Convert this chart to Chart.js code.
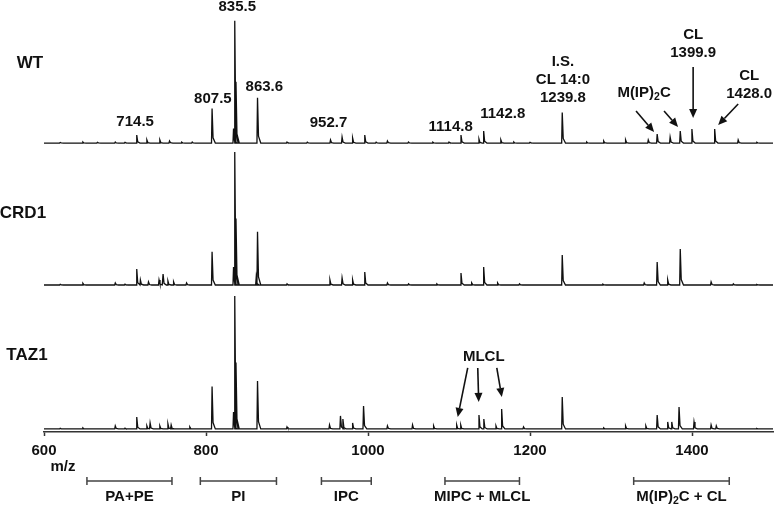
<!DOCTYPE html>
<html>
<head>
<meta charset="utf-8">
<script src="https://cdn.jsdelivr.net/npm/chart.js@4"></script>
<style>
  body { margin: 0; background: #fff; }
  canvas { display: block; }
</style>
</head>
<body>
<canvas id="spectra" width="774" height="505"></canvas>
<script>
// peaks as [m/z, relative intensity]; 835.5 of CRD1 / TAZ1 = 100
const wtPeaks = [
    [620, 0.4], [648, 0.8], [666, 0.5], [688, 0.8], [700, 0.5], [714.5, 6], [727, 2.3], [743, 2.3],
    [755, 1.5], [770, 0.6], [783, 0.8], [807.5, 26], [834, 11], [835.5, 92], [837, 46], [863.6, 34],
    [900, 0.8], [925, 0.6], [953.7, 2.3], [968, 4.5], [981, 3.8], [996, 6], [1010, 0.6], [1024, 1.5],
    [1050, 0.8], [1080, 0.6], [1100, 0.8], [1114.8, 6], [1137, 3], [1142.8, 9], [1164, 2.3], [1180, 0.8],
    [1200, 0.5], [1239.8, 23], [1270, 0.8], [1291, 1.5], [1318, 2.3], [1346, 2.3], [1357, 6.8],
    [1373, 4.5], [1385.5, 9], [1399.9, 10.5], [1428.0, 10.5], [1457, 2.3], [1480, 0.5]
];
const crd1Peaks = [
    [620, 0.5], [648, 1.2], [688, 1.5], [700, 0.6], [714.5, 12], [719, 3.8], [729, 2.3], [742, 3.8],
    [747, 8.3], [753, 3], [760, 2.3], [776, 1.5], [807.5, 25], [834, 13.5], [835.5, 100], [837, 50],
    [862, 6], [863.6, 40], [900, 0.8], [953, 3.8], [968, 5.3], [981, 3.8], [996, 9.8], [1024, 1.5],
    [1050, 0.8], [1085, 0.8], [1114.8, 9], [1128, 1.5], [1142.8, 13.5], [1160, 1.5], [1187, 0.8],
    [1239.8, 22.6], [1290, 0.6], [1341, 1.5], [1357, 17.3], [1370, 3.8], [1385.5, 27], [1423.6, 2.3],
    [1451, 0.8], [1480, 0.4]
];
const taz1Peaks = [
    [620, 0.5], [648, 0.8], [688, 2.3], [700, 0.6], [714.5, 9], [727, 2.3], [731, 4.5], [743, 2.3],
    [753, 3.8], [757, 3], [780, 1.5], [807.5, 32], [834, 12.8], [835.5, 100], [837, 50], [863.6, 36],
    [900, 1.5], [952.5, 3], [966, 9.8], [969, 7.5], [981, 4.5], [994.5, 17.3], [1024, 2.3], [1055, 3],
    [1081, 2.3], [1109.5, 3], [1114.5, 3], [1137, 10.5], [1143, 7.5], [1158, 2.3], [1165, 15],
    [1192, 1.5], [1239.8, 24], [1291, 0.8], [1318, 2.3], [1343, 2.3], [1357, 10.5], [1370, 5.3],
    [1375, 5.3], [1384, 16.5], [1402.5, 5.3], [1423.6, 3], [1430, 2.3], [1480, 0.4]
];
const traceNames = ["WT", "CRD1", "TAZ1"];
const traceBase = [217.4, 110.6, 2.3];   // offset of each spectrum on the shared y scale
const xTicks = [600, 800, 1000, 1200, 1400];
const classRanges = [
    ["PA+PE", 653, 758],
    ["PI", 793, 887],
    ["IPC", 942.5, 1004],
    ["MIPC + MLCL", 1095, 1187],
    ["M(IP)2C + CL", 1328, 1446]
];
// peak labels: text lines, m/z, y (first line)
const peakLabels = [
    [["835.5"], 838.6, 319.8],
    [["807.5"], 808.5, 250.6],
    [["863.6"], 872, 259.6],
    [["714.5"], 712.5, 233.3],
    [["952.7"], 951.2, 232.5],
    [["1114.8"], 1102, 229.5],
    [["1142.8"], 1166.4, 239.3],
    [["I.S.", "CL 14:0", "1239.8"], 1240.6, 278.4],
    [["M(IP)2C"], 1340.8, 255.1],
    [["CL", "1399.9"], 1401.4, 298.7],
    [["CL", "1428.0"], 1470.6, 267.9],
    [["MLCL"], 1142.9, 56.4]
];
const arrows = [
    [1401.4, 274.6, 1401.4, 236.3],
    [1457, 246.8, 1432.3, 231],
    [1330.9, 241.5, 1353.2, 225.7],
    [1365.5, 241.5, 1382.8, 229.5],
    [1123.1, 48.2, 1110.8, 11.3],
    [1135.5, 48.2, 1136.7, 22.6],
    [1159, 48.2, 1165.2, 26.3]
];
const nameMz = [582.7, 574, 579];
const nameY = [277.7, 164.8, 57.9];

const FONT = "'Liberation Sans', Arial, sans-serif";
const INK = "#111";

function buildTrace(peaks, base) {
    const pts = [{ x: 600, y: base }];
    peaks.slice().sort((a, b) => a[0] - b[0]).forEach(([mz, h]) => {
        pts.push({ x: mz - 0.7, y: base });
        pts.push({ x: mz, y: base + h });
        pts.push({ x: mz + 1.2, y: base + h * 0.15 });
        pts.push({ x: mz + 4, y: base });
    });
    pts.push({ x: 1500, y: base });
    return pts;
}

// draws "M(IP)2C" style text with a subscript 2
function drawRich(ctx, text, x, y, size) {
    ctx.font = "bold " + size + "px " + FONT;
    const parts = text.split("(IP)2");
    if (parts.length === 1) {
        ctx.textAlign = "center";
        ctx.fillText(text, x, y);
        return;
    }
    const a = parts[0] + "(IP)", b = parts[1];
    const sub = size * 0.7;
    const wa = ctx.measureText(a).width, wb = ctx.measureText(b).width;
    ctx.font = "bold " + sub + "px " + FONT;
    const ws = ctx.measureText("2").width;
    const left = x - (wa + ws + wb) / 2;
    ctx.textAlign = "left";
    ctx.font = "bold " + size + "px " + FONT;
    ctx.fillText(a, left, y);
    ctx.font = "bold " + sub + "px " + FONT;
    ctx.fillText("2", left + wa, y + size * 0.3);
    ctx.font = "bold " + size + "px " + FONT;
    ctx.fillText(b, left + wa + ws, y);
}

function arrow(ctx, x1, y1, x2, y2) {
    const ang = Math.atan2(y2 - y1, x2 - x1);
    const len = 9, half = 4;
    const bx = x2 - len * Math.cos(ang), by = y2 - len * Math.sin(ang);
    ctx.beginPath();
    ctx.moveTo(x1, y1);
    ctx.lineTo(bx, by);
    ctx.stroke();
    ctx.beginPath();
    ctx.moveTo(x2, y2);
    ctx.lineTo(bx + half * Math.sin(ang), by - half * Math.cos(ang));
    ctx.lineTo(bx - half * Math.sin(ang), by + half * Math.cos(ang));
    ctx.closePath();
    ctx.fill();
}

const annotations = {
    id: "annotations",
    afterDraw(chart) {
        const { ctx, scales: { x, y }, chartArea } = chart;
        ctx.save();
        ctx.fillStyle = INK;
        ctx.strokeStyle = INK;
        ctx.textBaseline = "middle";

        // trace names
        ctx.font = "bold 17px " + FONT;
        ctx.textAlign = "center";
        traceNames.forEach((n, i) => ctx.fillText(n, x.getPixelForValue(nameMz[i]), y.getPixelForValue(nameY[i])));

        // peak labels
        peakLabels.forEach(([lines, mz, yv]) => {
            lines.forEach((t, k) => {
                drawRich(ctx, t, x.getPixelForValue(mz), y.getPixelForValue(yv) + k * 18, 15);
            });
        });

        ctx.lineWidth = 1.6;
        arrows.forEach(([a, b, c, d]) => arrow(ctx,
            x.getPixelForValue(a), y.getPixelForValue(b), x.getPixelForValue(c), y.getPixelForValue(d)));

        // m/z label and class brackets under the axis
        ctx.font = "bold 15px " + FONT;
        ctx.textAlign = "center";
        ctx.fillText("m/z", x.getPixelForValue(623.4), chartArea.bottom + 35);
        ctx.strokeStyle = "#444";
        ctx.lineWidth = 1.5;
        const by = chartArea.bottom + 49;
        classRanges.forEach(([name, lo, hi]) => {
            const x1 = x.getPixelForValue(lo), x2 = x.getPixelForValue(hi);
            ctx.beginPath();
            ctx.moveTo(x1, by); ctx.lineTo(x2, by);
            ctx.moveTo(x1, by - 4); ctx.lineTo(x1, by + 4);
            ctx.moveTo(x2, by - 4); ctx.lineTo(x2, by + 4);
            ctx.stroke();
            drawRich(ctx, name, (x1 + x2) / 2, chartArea.bottom + 65, 15);
        });
        ctx.restore();
    }
};

new Chart(document.getElementById("spectra"), {
    type: "line",
    data: {
        datasets: [wtPeaks, crd1Peaks, taz1Peaks].map((p, i) => ({
            label: traceNames[i],
            data: buildTrace(p, traceBase[i]),
            borderColor: INK,
            borderWidth: 1.3,
            pointRadius: 0,
            tension: 0,
            fill: false
        }))
    },
    options: {
        responsive: false,
        animation: false,
        layout: { padding: { left: 44, right: 1, top: 0, bottom: 0 } },
        plugins: { legend: { display: false }, tooltip: { enabled: false } },
        scales: {
            x: {
                type: "linear",
                min: 600,
                max: 1500,
                afterBuildTicks: (s) => { s.ticks = xTicks.map((v) => ({ value: v })); },
                afterFit: (s) => { s.height = 73; },
                ticks: {
                    color: INK,
                    padding: 6,
                    callback: (v) => String(v),
                    font: { family: FONT, size: 15, weight: "bold" }
                },
                grid: { drawOnChartArea: false, tickLength: 4, color: "#333", tickWidth: 1.5 },
                border: { color: "#333", width: 1.5 }
            },
            y: { display: false, min: 0, max: 325 }
        }
    },
    plugins: [annotations]
});
</script>
</body>
</html>
